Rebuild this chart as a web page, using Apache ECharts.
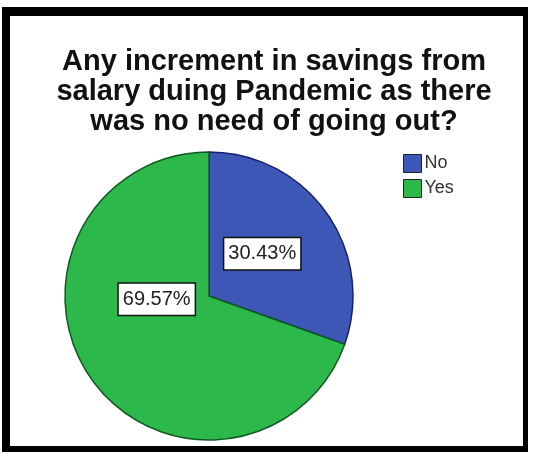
<!DOCTYPE html>
<html>
<head>
<meta charset="utf-8">
<script src="https://cdn.jsdelivr.net/npm/echarts@6/dist/echarts.min.js"></script>
<style>
html,body{margin:0;padding:0;background:#fff;width:533px;height:458px;overflow:hidden;}
#frame{position:absolute;left:2px;top:7px;width:526px;height:445px;box-sizing:border-box;border-style:solid;border-color:#000;border-width:9px 5px 6px 8px;}
#chart{position:absolute;left:0;top:0;width:533px;height:458px;}
</style>
</head>
<body>
<div id="frame"></div>
<div id="chart"></div>
<script>
const titleLines = ['Any increment in savings from', 'salary duing Pandemic as there', 'was no need of going out?'];
const categories = ['No', 'Yes'];
const percentages = [30.43, 69.57];
const fillColors = ['#3d57b7', '#2cb84b'];
const edgeColors = ['#16206e', '#0f5a22'];
const labelShift = [[-8, 1], [9, -40]];

const chart = echarts.init(document.getElementById('chart'), null, {renderer: 'canvas'});
chart.setOption({
  backgroundColor: 'transparent',
  animation: false,
  title: {
    text: titleLines.join('\n'),
    left: 269,
    textAlign: 'center',
    top: 42,
    textStyle: {fontFamily: 'Liberation Sans, Arial', fontSize: 29, fontWeight: 'bold', lineHeight: 30, color: '#111'}
  },
  legend: {
    orient: 'vertical',
    left: 398,
    top: 149,
    icon: 'rect',
    itemWidth: 18,
    itemHeight: 18,
    itemGap: 6,
    data: categories,
    textStyle: {fontFamily: 'Liberation Sans, Arial', fontSize: 18, color: '#333', padding: [0, 0, 0, -2]},
    itemStyle: {borderColor: '#222', borderWidth: 1}
  },
  series: [{
    type: 'pie',
    center: [209, 296],
    radius: 144,
    startAngle: 90,
    clockwise: true,
    silent: true,
    data: categories.map((c, i) => ({
      name: c,
      value: percentages[i],
      itemStyle: {color: fillColors[i], borderColor: edgeColors[i], borderWidth: 1.5}
    })),
    label: {
      show: true,
      position: 'inside',
      formatter: p => p.value.toFixed(2) + '%',
      fontFamily: 'Liberation Sans, Arial',
      fontSize: 20,
      color: '#222',
      backgroundColor: '#fff',
      borderColor: '#111',
      borderWidth: 1.5,
      padding: [5, 4, 4, 4],
      lineHeight: 22
    },
    labelLine: {show: false},
    labelLayout: function (params) {
      const s = labelShift[params.dataIndex];
      return {dx: s[0], dy: s[1]};
    }
  }]
});
</script>
</body>
</html>
